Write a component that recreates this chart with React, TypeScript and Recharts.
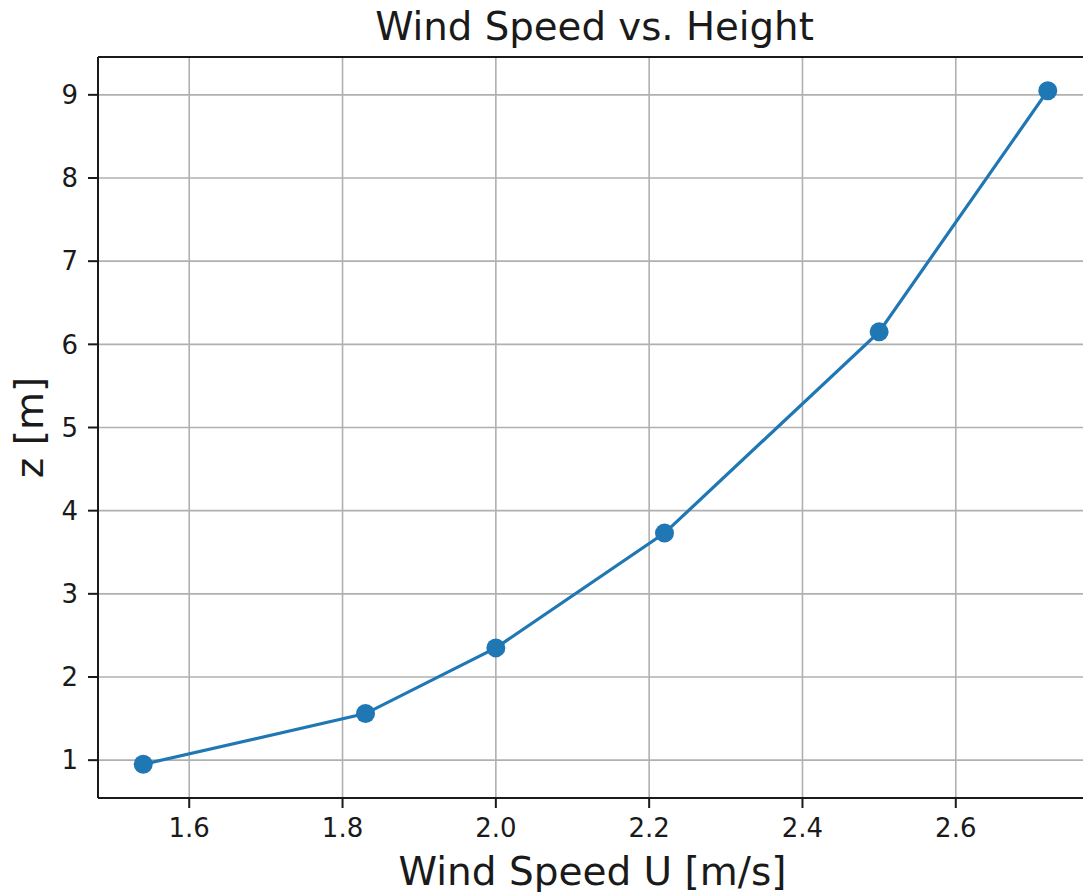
import {
  CartesianGrid,
  Label,
  Line,
  LineChart,
  ReferenceLine,
  XAxis,
  YAxis,
} from "recharts";

const windSpeed = [1.54, 1.83, 2.0, 2.22, 2.5, 2.72];
const heightZ = [0.95, 1.56, 2.35, 3.73, 6.15, 9.05];
const xTicks = [1.6, 1.8, 2.0, 2.2, 2.4, 2.6];
const yTicks = [1, 2, 3, 4, 5, 6, 7, 8, 9];

const X_DOMAIN: [number, number] = [1.481, 2.779];
const Y_DOMAIN: [number, number] = [0.545, 9.455];

const FONT = "'DejaVu Sans', sans-serif";
const BLUE = "#1f77b4";
const INK = "#1a1a1a";

const chartData = windSpeed.map((u, i) => ({ u, z: heightZ[i] }));

export default function App() {
  return (
    <div
      style={{
        position: "absolute",
        left: 0,
        top: 0,
        width: 1083,
        height: 892,
        overflow: "hidden",
        background: "#fff",
        fontFamily: FONT,
      }}
    >
      <div
        style={{
          position: "absolute",
          left: 97,
          width: 995,
          top: 7.5,
          textAlign: "center",
          fontSize: 38.7,
          lineHeight: "38.5px",
          color: INK,
          whiteSpace: "nowrap",
        }}
      >
        Wind Speed vs. Height
      </div>
      <LineChart
        width={1094}
        height={892}
        data={chartData}
        margin={{ top: 57, right: 1, bottom: 0, left: 0 }}
        style={{ position: "absolute", left: 0, top: 0 }}
      >
        <CartesianGrid stroke="#b0b0b0" strokeWidth={1.6} />
        <XAxis
          dataKey="u"
          type="number"
          domain={X_DOMAIN}
          allowDataOverflow
          ticks={xTicks}
          interval={0}
          tickFormatter={(v: number) => v.toFixed(1)}
          height={94}
          tickSize={10}
          tickMargin={11}
          axisLine={{ stroke: INK, strokeWidth: 2 }}
          tickLine={{ stroke: INK, strokeWidth: 2 }}
          tick={{ fill: INK, fontSize: 26, fontFamily: FONT }}
        >
          <Label
            value="Wind Speed U [m/s]"
            position="insideBottom"
            offset={7}
            dx={-3}
            style={{ fill: INK, fontSize: 39, fontFamily: FONT }}
          />
        </XAxis>
        <YAxis
          dataKey="z"
          type="number"
          domain={Y_DOMAIN}
          allowDataOverflow
          ticks={yTicks}
          interval={0}
          width={98}
          tickSize={10}
          tickMargin={10}
          axisLine={{ stroke: INK, strokeWidth: 2 }}
          tickLine={{ stroke: INK, strokeWidth: 2 }}
          tick={{ fill: INK, fontSize: 26, fontFamily: FONT }}
        >
          <Label
            value="z [m]"
            angle={-90}
            position="center"
            dx={-20}
            style={{ fill: INK, fontSize: 39, fontFamily: FONT }}
          />
        </YAxis>
        <ReferenceLine y={Y_DOMAIN[1]} stroke={INK} strokeWidth={2} />
        <Line
          dataKey="z"
          type="linear"
          stroke={BLUE}
          strokeWidth={3.2}
          dot={{ r: 9.5, fill: BLUE, stroke: BLUE, strokeWidth: 0 }}
          activeDot={false}
          isAnimationActive={false}
        />
      </LineChart>
    </div>
  );
}
